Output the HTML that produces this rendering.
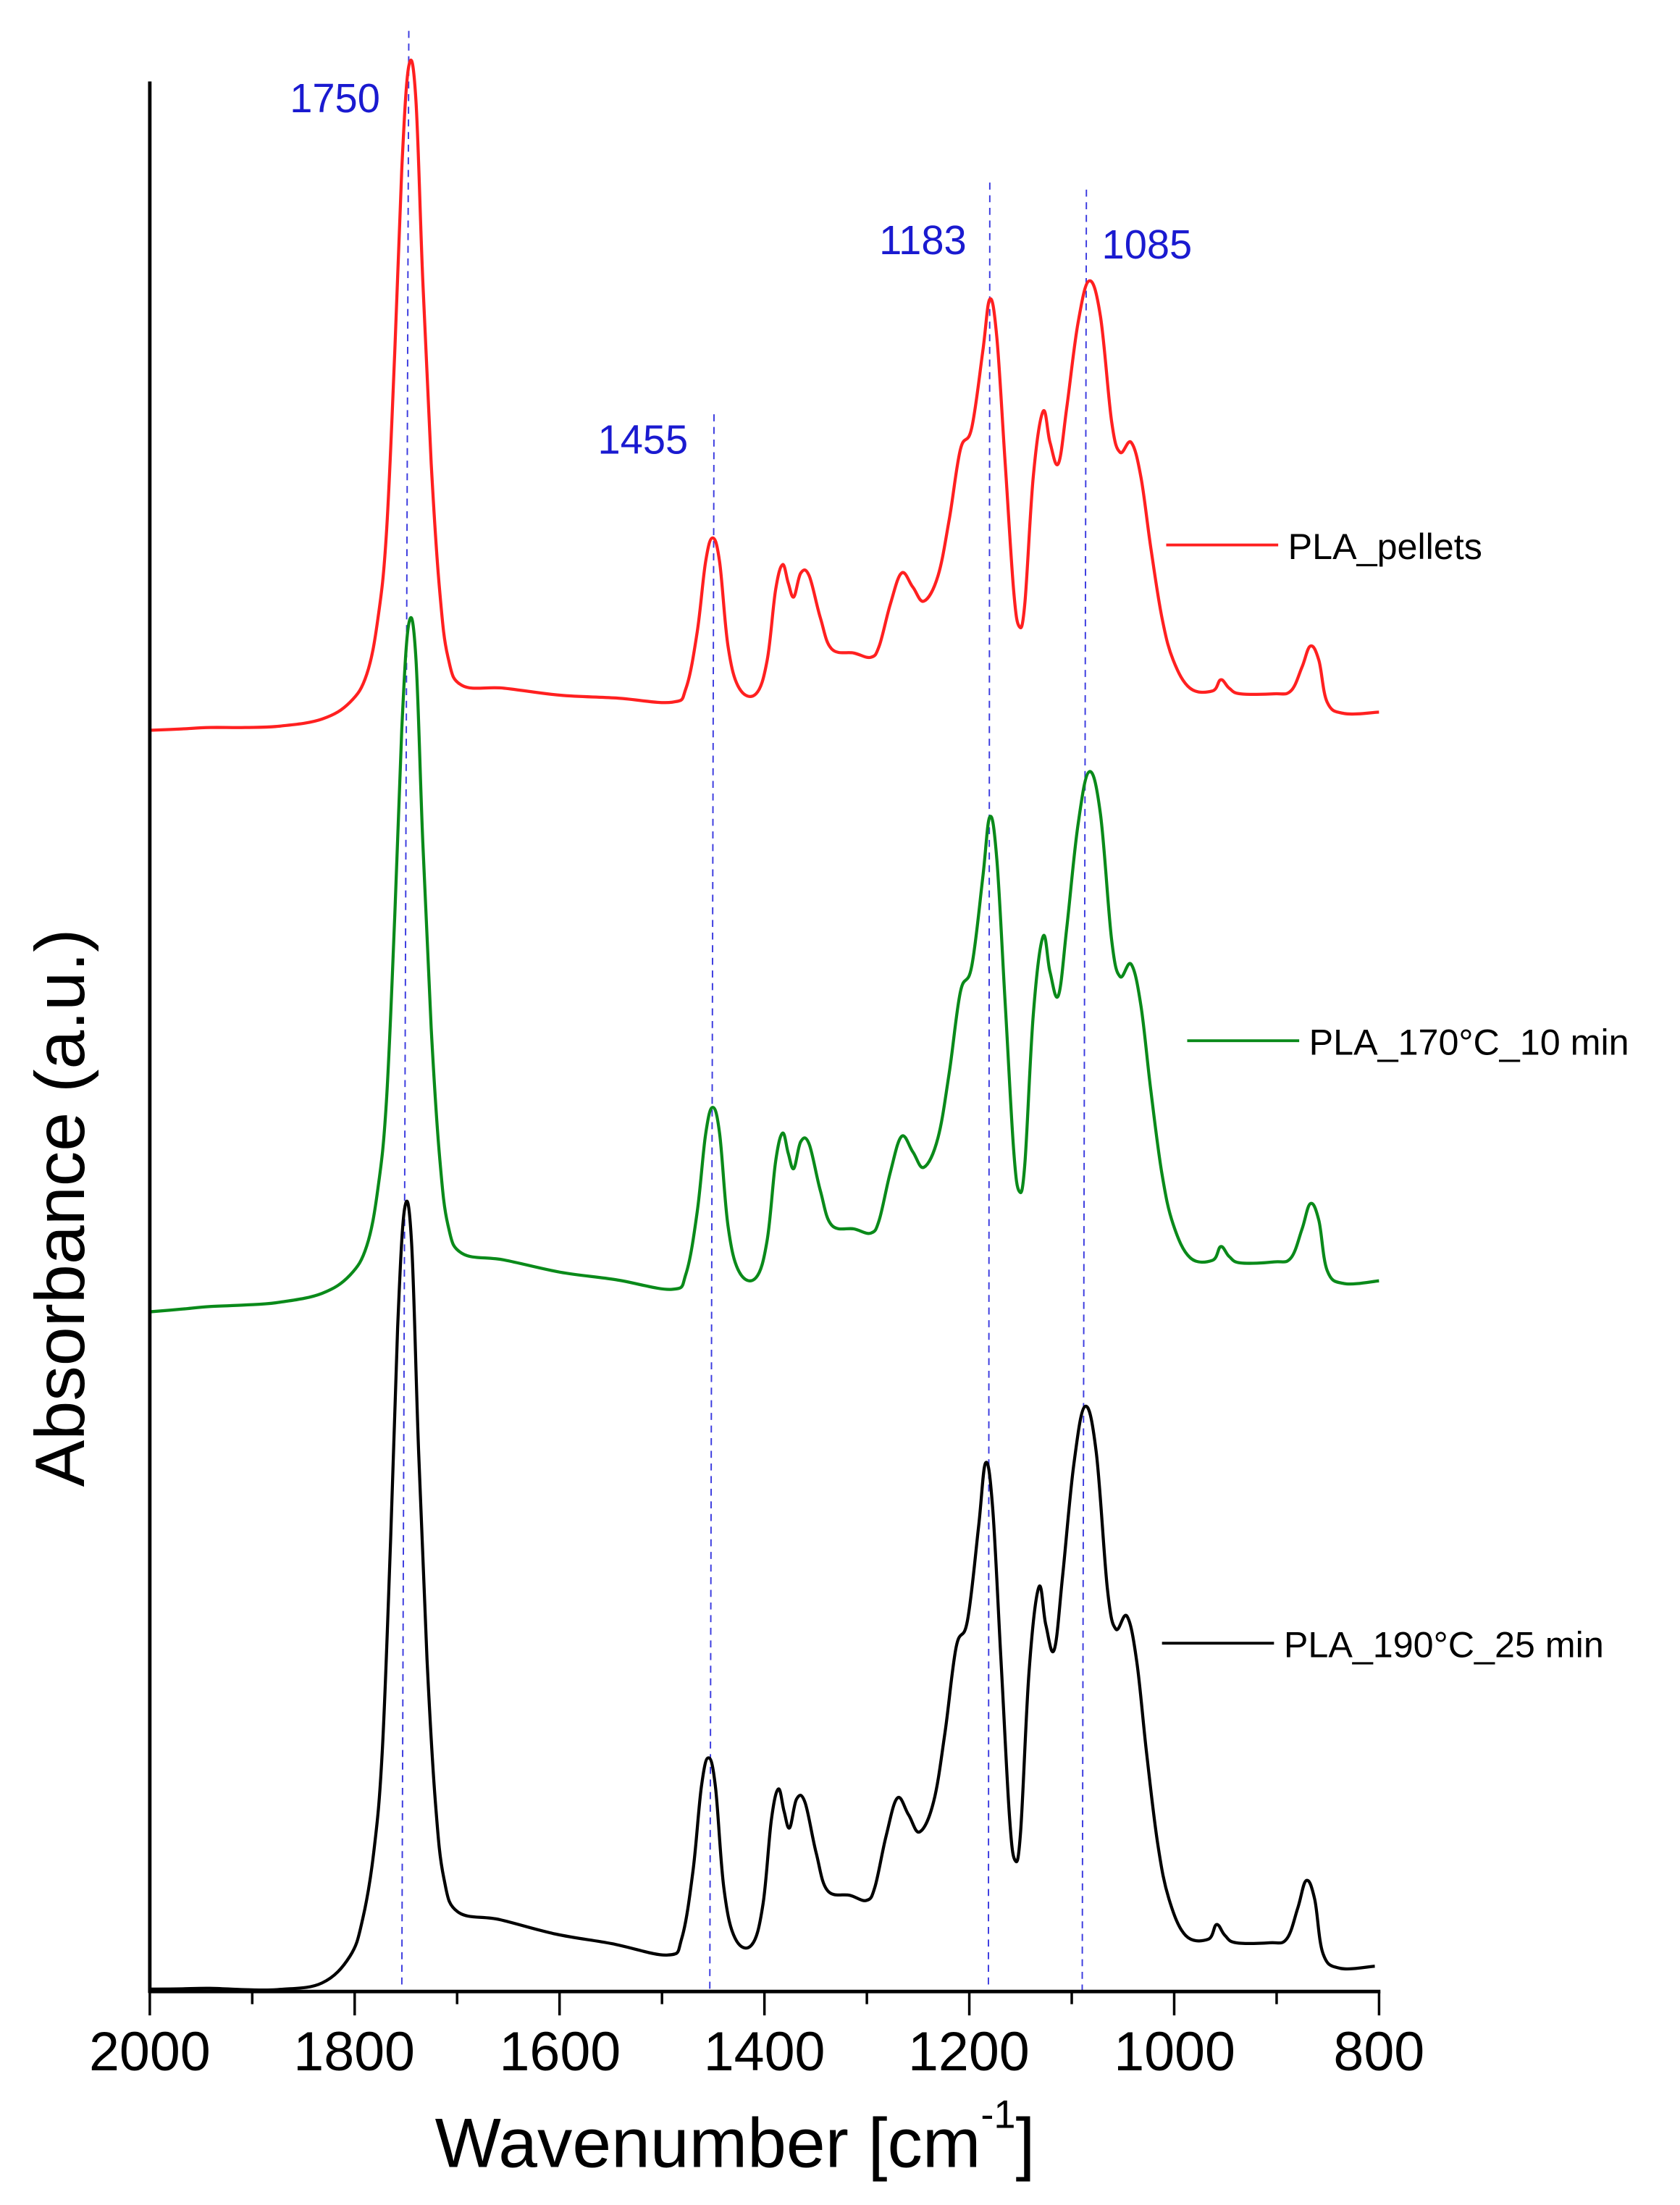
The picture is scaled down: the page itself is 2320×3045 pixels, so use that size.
<!DOCTYPE html>
<html><head><meta charset="utf-8"><style>
html,body{margin:0;padding:0;background:#fff;}
svg{display:block;}
text{font-family:"Liberation Sans","DejaVu Sans",sans-serif;}
</style></head><body>
<svg id="s" width="2320" height="3045" viewBox="0 0 1200 1570" preserveAspectRatio="none" xmlns="http://www.w3.org/2000/svg">
<g id="dash" stroke="#3a3adf" stroke-width="1" stroke-dasharray="5,4" fill="none">
<line x1="292" y1="22" x2="287" y2="1418"/>
<line x1="510" y1="295" x2="507" y2="1418"/>
<line x1="707" y1="130" x2="706" y2="1418"/>
<line x1="776" y1="135" x2="773" y2="1418"/>
</g>
<g id="curves" fill="none" stroke-width="2.2" stroke-linejoin="round"></g>
<g fill="#1a1ad0" font-size="29">
<text x="207" y="80">1750</text>
<text x="427" y="323">1455</text>
<text x="628" y="181">1183</text>
<text x="787" y="184">1085</text>
</g>
<g font-size="26" fill="#000">
<line x1="833" y1="388" x2="913" y2="388" stroke="#ff2020" stroke-width="2"/>
<text x="920" y="398">PLA_pellets</text>
<line x1="848" y1="741" x2="928" y2="741" stroke="#0a8a1a" stroke-width="2"/>
<text x="935" y="751">PLA_170°C_10 min</text>
<line x1="830" y1="1170" x2="910" y2="1170" stroke="#000" stroke-width="2"/>
<text x="917" y="1180">PLA_190°C_25 min</text>
</g>
<g stroke="#000" stroke-width="2.5">
<line x1="107" y1="58" x2="107" y2="1419"/>
<line x1="106" y1="1418" x2="986" y2="1418"/>
</g>
<g id="ticks" stroke="#000" stroke-width="1.8"></g>
<g font-size="39" text-anchor="middle" fill="#000">
<text x="107" y="1474">2000</text>
<text x="253" y="1474">1800</text>
<text x="400" y="1474">1600</text>
<text x="546" y="1474">1400</text>
<text x="692" y="1474">1200</text>
<text x="839" y="1474">1000</text>
<text x="985" y="1474">800</text>
</g>
<text x="525" y="1543" font-size="50" text-anchor="middle">Wavenumber [cm<tspan font-size="28" dy="-28">-1</tspan><tspan dy="28">]</tspan></text>
<text transform="translate(60,860) rotate(-90)" font-size="50" text-anchor="middle">Absorbance (a.u.)</text>
</svg>
<script>
var NS="http://www.w3.org/2000/svg";
var t=document.getElementById('ticks');
for(var w=2000;w>=800;w-=100){var x=107+(2000-w)*0.7317;var l=document.createElementNS(NS,'line');
l.setAttribute('x1',x);l.setAttribute('x2',x);l.setAttribute('y1',1418);l.setAttribute('y2',w%200==0?1435:1427);t.appendChild(l);}
var R=[[107,520],[130,519],[150,518],[175,518],[200,517],[230,512],[250,500],[262,480],[270,440],[276,380],[282,250],[287,120],[292,47],[297,70],[302,200],[308,330],[314,420],[320,468],[330,488],[360,490],[400,495],[440,497],[480,500],[490,490],[498,450],[504,400],[509,383],[514,400],[520,460],[528,490],[540,494],[548,470],[554,420],[559,402],[563,415],[567,425],[572,408],[578,410],[586,440],[594,462],[610,465],[622,468],[628,460],[636,430],[644,408],[652,418],[660,428],[670,410],[678,370],[686,320],[694,305],[702,250],[707,213],[712,240],[718,330],[724,420],[728,446],[732,430],[738,340],[745,293],[750,315],[756,330],[762,290],[770,230],[778,200],[786,225],[794,300],[800,322],[808,315],[815,340],[822,390],[830,440],[838,470],[850,490],[866,492],[872,484],[878,490],[886,494],[910,494],[922,492],[930,475],[936,460],[942,470],[948,500],[960,508],[985,507]];
function interp(p,x){if(x<=p[0][0])return p[0][1];for(var i=1;i<p.length;i++){if(x<=p[i][0]){var a=p[i-1],b=p[i];return a[1]+(b[1]-a[1])*(x-a[0])/(b[0]-a[0]);}}return p[p.length-1][1];}
var baseR=[[107,518],[480,500],[985,507]];
function draw(col,base,sc,dx){var P=[];for(var i=0;i<R.length;i++){var x=R[i][0];var h=interp(baseR,x)-R[i][1];var y=interp(base,x)-h*interp(sc,x);var xx=x+(x>250?dx:0);P.push([xx,y]);}
var d='M'+P[0][0]+','+P[0][1];var k=0.18;
for(var i=0;i<P.length-1;i++){var p0=P[Math.max(0,i-1)],p1=P[i],p2=P[i+1],p3=P[Math.min(P.length-1,i+2)];
var c1x=p1[0]+(p2[0]-p0[0])*k,c1y=p1[1]+(p2[1]-p0[1])*k,c2x=p2[0]-(p3[0]-p1[0])*k,c2y=p2[1]-(p3[1]-p1[1])*k;
d+='C'+c1x.toFixed(1)+','+c1y.toFixed(1)+' '+c2x.toFixed(1)+','+c2y.toFixed(1)+' '+p2[0].toFixed(1)+','+p2[1].toFixed(1);}
var p=document.createElementNS(NS,'path');p.setAttribute('d',d);p.setAttribute('stroke',col);document.getElementById('curves').appendChild(p);}
draw('#ff2020',baseR,[[107,1]],0);
draw('#0a8a1a',[[107,932],[330,912],[480,918],[985,912]],[[107,1.02],[400,1.02],[509,1.1],[707,1.15],[778,1.2],[985,1.2]],0);
draw('#000',[[107,1414],[230,1412],[320,1383],[480,1392],[985,1400]],[[107,1.15],[292,1.15],[509,1.2],[707,1.22],[778,1.3],[985,1.3]],-3);
</script>
</body></html>
